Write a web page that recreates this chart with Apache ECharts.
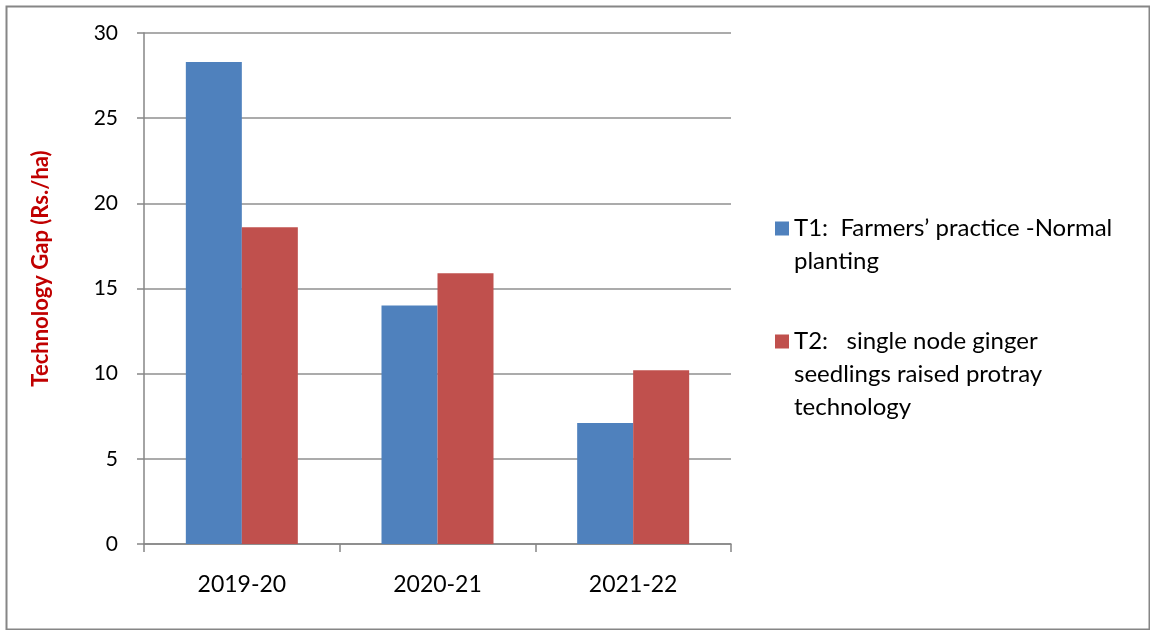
<!DOCTYPE html>
<html>
<head>
<meta charset="utf-8">
<title>Technology Gap</title>
<script src="https://cdn.jsdelivr.net/npm/echarts@6/dist/echarts.min.js"></script>
<style>
  html, body { margin: 0; padding: 0; background: #ffffff; }
  #chart { width: 1150px; height: 630px; }
</style>
</head>
<body>
<div id="chart"></div>
<script>
// Seasons on the x axis
const years = ['2019-20', '2020-21', '2021-22'];

// Technology gap (Rs./ha) per treatment
const t1Values = [28.3, 14.0, 7.1];
const t2Values = [18.6, 15.9, 10.2];

// Treatment names (line breaks as shown in the legend)
const t1Name = 'T1:  Farmers\u2019 practice -Normal\nplanting';
const t2Name = 'T2:   single node ginger\nseedlings raised protray\ntechnology';

// Y axis range
const yMin = 0;
const yMax = 30;
const yStep = 5;

const FONT = 'Lato, "Noto Sans", sans-serif';
const AXIS_GREY = '#868686';
const LEGEND_LINE = 33;

// Legend marker: a square pinned to the first text line.
// The invisible end point stretches the path box so the square sits on line one.
function markerPath(lines) {
  const h = (lines - 1) * LEGEND_LINE + 14;
  return 'path://M0,0H14V14H0Z M7,' + h + 'L7.001,' + h + 'Z';
}

const chart = echarts.init(document.getElementById('chart'), null, { renderer: 'canvas' });

chart.setOption({
  animation: false,
  backgroundColor: '#ffffff',
  grid: { left: 144, right: 419, top: 33, bottom: 86, containLabel: false },
  xAxis: {
    type: 'category',
    data: years,
    axisLine: { show: true, lineStyle: { color: AXIS_GREY, width: 1.5 } },
    axisTick: { show: true, length: 8, alignWithLabel: false, lineStyle: { color: AXIS_GREY, width: 1.5 } },
    axisLabel: { color: '#000000', fontFamily: FONT, fontSize: 23, margin: 29 },
    splitLine: { show: false }
  },
  yAxis: {
    type: 'value',
    min: yMin,
    max: yMax,
    interval: yStep,
    name: 'Technology Gap (Rs./ha)',
    nameLocation: 'middle',
    nameRotate: 90,
    nameGap: 92,
    nameTextStyle: {
      color: '#C00000', fontFamily: FONT, fontWeight: 'bold', fontSize: 22,
      padding: [0, 0, 0, 40]
    },
    axisLine: { show: true, lineStyle: { color: AXIS_GREY, width: 1.5 } },
    axisTick: { show: true, inside: false, length: 7, lineStyle: { color: AXIS_GREY, width: 1.5 } },
    axisLabel: { color: '#000000', fontFamily: FONT, fontSize: 21, margin: 26 },
    splitLine: { show: true, lineStyle: { color: '#8f8f8f', width: 1.5 } }
  },
  legend: {
    orient: 'vertical',
    left: 770,
    top: 207,
    itemWidth: 14,
    itemHeight: 80,
    itemGap: 47,
    selectedMode: false,
    textStyle: { color: '#000000', fontFamily: FONT, fontSize: 24, lineHeight: LEGEND_LINE },
    data: [
      { name: t1Name, icon: markerPath(2) },
      { name: t2Name, icon: markerPath(3) }
    ]
  },
  series: [
    {
      name: t1Name,
      type: 'bar',
      data: t1Values,
      barWidth: 56,
      barGap: '0%',
      itemStyle: { color: '#4F81BD' }
    },
    {
      name: t2Name,
      type: 'bar',
      data: t2Values,
      barWidth: 56,
      barGap: '0%',
      itemStyle: { color: '#C0504D' }
    }
  ],
  graphic: [
    {
      type: 'rect',
      left: 4,
      top: 4,
      shape: { width: 1143, height: 623 },
      style: { fill: 'none', stroke: AXIS_GREY, lineWidth: 2 },
      silent: true,
      z: 100
    }
  ]
});
</script>
</body>
</html>
